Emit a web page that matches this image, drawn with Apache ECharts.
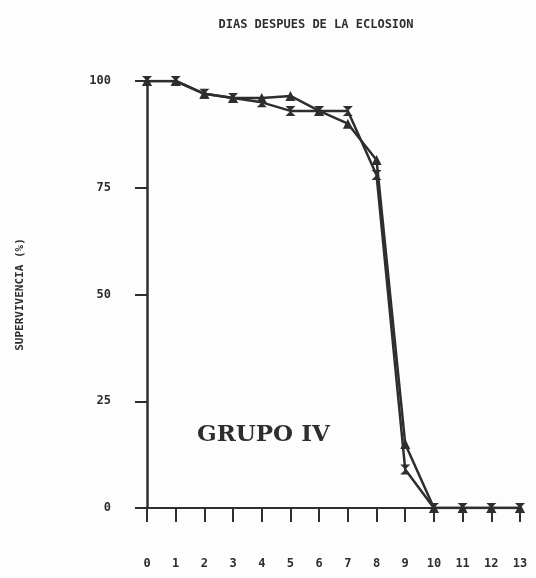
<!DOCTYPE html>
<html>
<head>
<meta charset="utf-8">
<script src="https://cdn.jsdelivr.net/npm/echarts@6/dist/echarts.min.js"></script>
<style>html,body{margin:0;padding:0;background:#fff}#c{width:536px;height:578px}</style>
</head>
<body>
<div id="c"></div>
<script>
const days = [0,1,2,3,4,5,6,7,8,9,10,11,12,13];
const xTickLabels = ['0','1','2','3','4','5','6','7','8','9','10','11','12','13'];
const yTickLabels = [0,25,50,75,100];
const serieTriangulo = [100,100,97,96,96,96.5,93,90,81.5,15,0,0,0,0];
const serieAspa = [100,100,97,96,95,93,93,93,78,9,0,0,0,0];
const tituloX = 'DIAS DESPUES DE LA ECLOSION';
const tituloY = 'SUPERVIVENCIA (%)';
const rotulo = 'GRUPO IV';

const ink = '#2e2e2e';
const mono = '"DejaVu Sans Mono", "Liberation Mono", monospace';
const bowtie = 'path://M0,0 L10,0 L0,10 L10,10 Z';

const chart = echarts.init(document.getElementById('c'));
chart.setOption({
  backgroundColor: '#fdfdfd',
  animation: false,
  title: {
    text: tituloX,
    left: 311, top: 14, textAlign: 'center',
    textStyle: {fontFamily: mono, fontWeight: 'bold', fontSize: 12, color: ink}
  },
  grid: {left: 147, right: 16, top: 81, bottom: 70, containLabel: false},
  xAxis: {
    type: 'value', min: 0, max: 13, interval: 1,
    axisLine: {lineStyle: {color: ink, width: 2}},
    axisTick: {show: true, length: 14, inside: false, lineStyle: {color: ink, width: 2}},
    axisLabel: {margin: 50, fontFamily: mono, fontWeight: 'bold', fontSize: 12, color: ink,
      formatter: v => xTickLabels[days.indexOf(v)] ?? ''},
    splitLine: {show: false}
  },
  yAxis: {
    type: 'value', min: 0, max: 100, interval: 25,
    name: tituloY, nameLocation: 'middle', nameRotate: 90, nameGap: 121,
    nameTextStyle: {fontFamily: mono, fontWeight: 'bold', fontSize: 11, color: ink},
    axisLine: {show: true, lineStyle: {color: ink, width: 2.5}},
    axisTick: {show: true, length: 12, lineStyle: {color: ink, width: 2}},
    axisLabel: {margin: 36, fontFamily: mono, fontWeight: 'bold', fontSize: 12, color: ink,
      formatter: v => yTickLabels.includes(v) ? String(v) : ''},
    splitLine: {show: false}
  },
  graphic: [{
    type: 'text', left: 197, top: 424,
    style: {text: rotulo, font: 'bold 23px "DejaVu Serif", serif', fill: ink}
  }],
  series: [
    {
      type: 'line', name: 'A',
      data: days.map((d, i) => [d, serieTriangulo[i]]),
      symbol: 'triangle', symbolSize: 10,
      lineStyle: {color: ink, width: 2.5},
      itemStyle: {color: ink}
    },
    {
      type: 'line', name: 'B',
      data: days.map((d, i) => [d, serieAspa[i]]),
      symbol: bowtie, symbolSize: [10, 10],
      lineStyle: {color: ink, width: 2.5},
      itemStyle: {color: ink}
    }
  ]
});
</script>
</body>
</html>
